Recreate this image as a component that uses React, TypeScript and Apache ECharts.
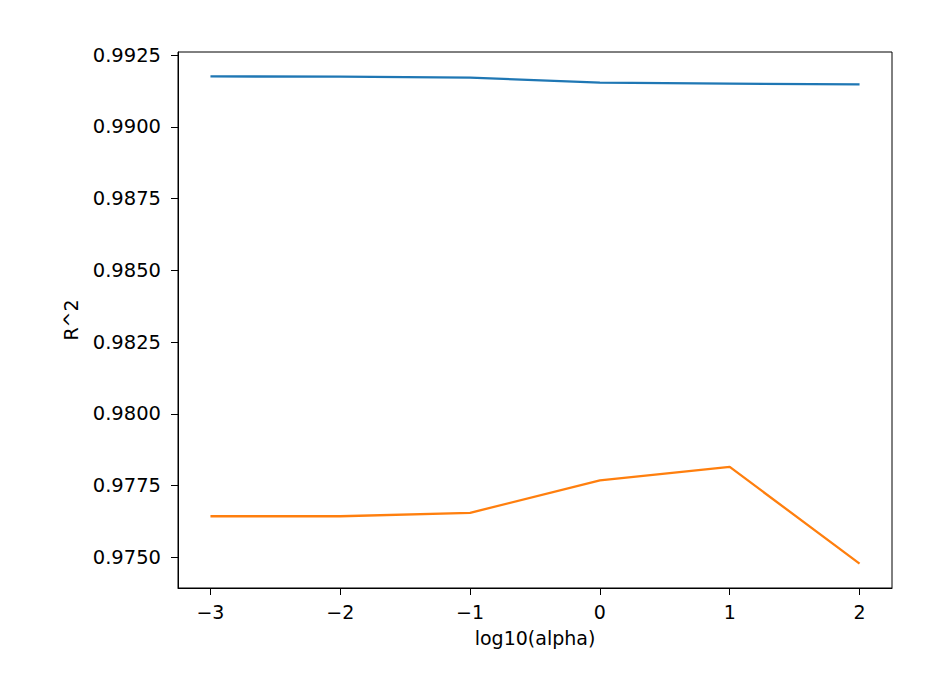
import React, { useEffect, useRef } from "react";
import * as echarts from "echarts";

const logAlpha = [-3, -2, -1, 0, 1, 2];
const trainR2 = [0.99176, 0.99175, 0.99172, 0.99154, 0.99151, 0.99148];
const testR2 = [0.97643, 0.97643, 0.97655, 0.97768, 0.97815, 0.97478];
const xTicks = [-3, -2, -1, 0, 1, 2];
const yTicks = [0.975, 0.9775, 0.98, 0.9825, 0.985, 0.9875, 0.99, 0.9925];

const FONT = "DejaVu Sans";

export default function App() {
  const ref = useRef<HTMLDivElement>(null);
  useEffect(() => {
    if (!ref.current) return;
    const chart = echarts.init(ref.current, null, { renderer: "svg" });
    const fmtX = (v: number) => (v < 0 ? "\u2212" + Math.abs(v) : String(v));
    chart.setOption({
      animation: false,
      backgroundColor: "#fff",
      grid: {
        left: 178,
        right: 44,
        top: 52,
        bottom: 94,
        show: true,
        borderColor: "#000",
        borderWidth: 1,
        backgroundColor: "transparent",
      },
      xAxis: {
        type: "value",
        min: -3.25,
        max: 2.25,
        name: "log10(alpha)",
        nameLocation: "middle",
        nameGap: 40,
        nameTextStyle: { fontFamily: FONT, fontSize: 19, color: "#000" },
        axisLine: { show: true, onZero: false, lineStyle: { color: "#000", width: 1 } },
        axisTick: { show: true, length: 7, lineStyle: { color: "#000" }, customValues: xTicks },
        axisLabel: {
          margin: 14,
          fontFamily: FONT,
          fontSize: 19,
          color: "#000",
          customValues: xTicks,
          formatter: (v: number) => fmtX(v),
        },
        splitLine: { show: false },
      },
      yAxis: {
        type: "value",
        min: 0.97393,
        max: 0.99261,
        name: "R^2",
        nameLocation: "middle",
        nameGap: 98,
        nameRotate: 90,
        nameTextStyle: { fontFamily: FONT, fontSize: 19, color: "#000" },
        axisLine: { show: true, onZero: false, lineStyle: { color: "#000", width: 1 } },
        axisTick: { show: true, length: 7, lineStyle: { color: "#000" }, customValues: yTicks },
        axisLabel: {
          margin: 17,
          fontFamily: FONT,
          fontSize: 19.5,
          color: "#000",
          customValues: yTicks,
          formatter: (v: number) => v.toFixed(4),
        },
        splitLine: { show: false },
      },
      series: [
        {
          type: "line",
          data: logAlpha.map((x, i) => [x, trainR2[i]]),
          showSymbol: false,
          lineStyle: { color: "#1f77b4", width: 2.3 },
          itemStyle: { color: "#1f77b4" },
        },
        {
          type: "line",
          data: logAlpha.map((x, i) => [x, testR2[i]]),
          showSymbol: false,
          lineStyle: { color: "#ff7f0e", width: 2.3 },
          itemStyle: { color: "#ff7f0e" },
        },
      ],
    });
    return () => chart.dispose();
  }, []);
  return <div ref={ref} style={{ width: 936, height: 682, position: "absolute", left: 0, top: 0 }} />;
}
